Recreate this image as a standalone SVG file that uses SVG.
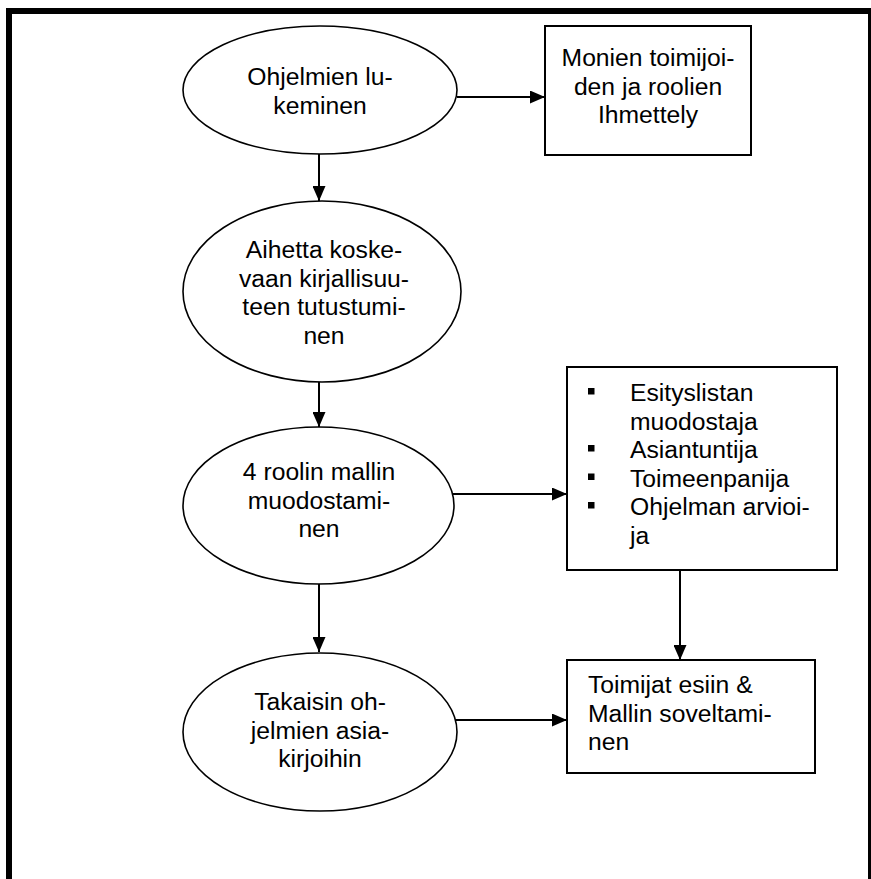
<svg xmlns="http://www.w3.org/2000/svg" width="871" height="879" viewBox="0 0 871 879">
<style>
.t{font-family:"Liberation Sans",Arial,Helvetica,sans-serif;font-size:24.7px;fill:#000}
.c{text-anchor:middle}
.shape{fill:#fff;stroke:#000;stroke-width:2}
.ell{fill:#fff;stroke:#000;stroke-width:1.6}
.conn{stroke:#000;stroke-width:2;fill:none}
.frame{fill:#000}
.bul{fill:#000}
</style>
<defs>
<marker id="arr" markerUnits="userSpaceOnUse" markerWidth="15" markerHeight="13" refX="15" refY="6.5" orient="auto">
<path d="M0,0 L15,6.5 L0,13 z" fill="#000"/>
</marker>
</defs>
<g id="frame">
<rect class="frame" x="6" y="8" width="865" height="6"/>
<rect class="frame" x="6" y="8" width="6" height="871"/>
<rect class="frame" x="868" y="8" width="3" height="871"/>
</g>
<g id="connectors">
<path class="conn" d="M457,97 H545" marker-end="url(#arr)"/>
<path class="conn" d="M319,154 V201" marker-end="url(#arr)"/>
<path class="conn" d="M319,382 V427" marker-end="url(#arr)"/>
<path class="conn" d="M453,494 H567" marker-end="url(#arr)"/>
<path class="conn" d="M319,584 V652" marker-end="url(#arr)"/>
<path class="conn" d="M455,720 H567" marker-end="url(#arr)"/>
<path class="conn" d="M680,570 V660" marker-end="url(#arr)"/>
</g>
<g id="n1">
<ellipse class="ell" cx="320" cy="90" rx="137" ry="64"/>
<text class="t c" x="320" y="85">Ohjelmien lu-</text>
<text class="t c" x="320" y="113.5">keminen</text>
</g>
<g id="n2">
<rect class="shape" x="545" y="26" width="206" height="129"/>
<text class="t c" x="648" y="66">Monien toimijoi-</text>
<text class="t c" x="648" y="94.5">den ja roolien</text>
<text class="t c" x="648" y="123">Ihmettely</text>
</g>
<g id="n3">
<ellipse class="ell" cx="322" cy="291.5" rx="139" ry="90.5"/>
<text class="t c" x="324" y="258">Aihetta koske-</text>
<text class="t c" x="324" y="286.5">vaan kirjallisuu-</text>
<text class="t c" x="324" y="315">teen tutustumi-</text>
<text class="t c" x="324" y="343.5">nen</text>
</g>
<g id="n4">
<ellipse class="ell" cx="318.5" cy="505.5" rx="135.5" ry="78.5"/>
<text class="t c" x="319" y="480">4 roolin mallin</text>
<text class="t c" x="319" y="508.5">muodostami-</text>
<text class="t c" x="319" y="537">nen</text>
</g>
<g id="n5">
<rect class="shape" x="567" y="367" width="270" height="203"/>
<rect class="bul" x="588" y="388" width="6.5" height="6.5"/>
<rect class="bul" x="588" y="445" width="6.5" height="6.5"/>
<rect class="bul" x="588" y="473.5" width="6.5" height="6.5"/>
<rect class="bul" x="588" y="502" width="6.5" height="6.5"/>
<text class="t" x="630" y="401">Esityslistan</text>
<text class="t" x="630" y="429.5">muodostaja</text>
<text class="t" x="630" y="458">Asiantuntija</text>
<text class="t" x="630" y="486.5">Toimeenpanija</text>
<text class="t" x="630" y="515">Ohjelman arvioi-</text>
<text class="t" x="630" y="543.5">ja</text>
</g>
<g id="n6">
<ellipse class="ell" cx="320" cy="732" rx="137" ry="79"/>
<text class="t c" x="320" y="710">Takaisin oh-</text>
<text class="t c" x="320" y="738.5">jelmien asia-</text>
<text class="t c" x="320" y="767">kirjoihin</text>
</g>
<g id="n7">
<rect class="shape" x="567" y="660" width="248" height="113"/>
<text class="t" x="588" y="693">Toimijat esiin &amp;</text>
<text class="t" x="588" y="721.5">Mallin soveltami-</text>
<text class="t" x="588" y="750">nen</text>
</g>
</svg>
